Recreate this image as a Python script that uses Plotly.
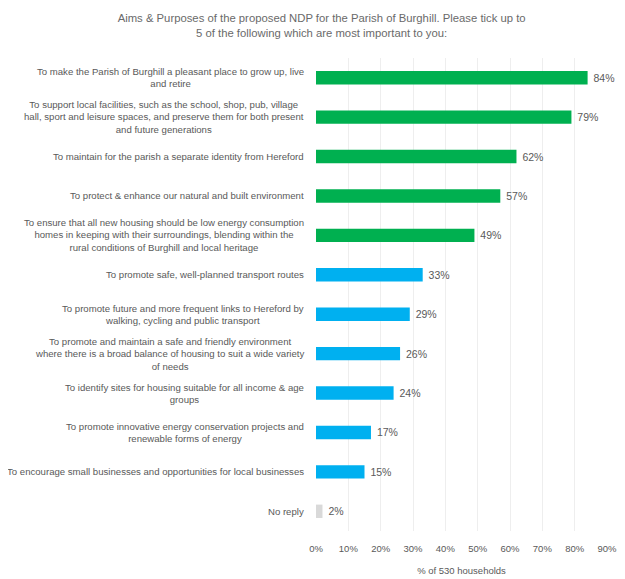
import plotly.graph_objects as go

categories = [
    "To make the Parish of Burghill a pleasant place to grow up, live<br>and retire",
    "To support local facilities, such as the school, shop, pub, village<br>hall, sport and leisure spaces, and preserve them for both present<br>and future generations",
    "To maintain for the parish a separate identity from Hereford",
    "To protect & enhance our natural and built environment",
    "To ensure that all new housing should be low energy consumption<br>homes in keeping with their surroundings, blending within the<br>rural conditions of Burghill and local heritage",
    "To promote safe, well-planned transport routes",
    "To promote future and more frequent links to Hereford by<br>walking, cycling and public transport",
    "To promote and maintain a safe and friendly environment<br>where there is a broad balance of housing to suit a wide variety<br>of needs",
    "To identify sites for housing suitable for all income & age<br>groups",
    "To promote innovative energy conservation projects and<br>renewable forms of energy",
    "To encourage small businesses and opportunities for local businesses",
    "No reply",
]
values = [84, 79, 62, 57, 49, 33, 29, 26, 24, 17, 15, 2]
value_labels = ["84%", "79%", "62%", "57%", "49%", "33%", "29%", "26%", "24%", "17%", "15%", "2%"]
groups = ["aim"] * 5 + ["other"] * 6 + ["none"]
tick_vals = [0, 10, 20, 30, 40, 50, 60, 70, 80, 90]
tick_text = ["0%", "10%", "20%", "30%", "40%", "50%", "60%", "70%", "80%", "90%"]

palette = {"aim": "#00B050", "other": "#00B0F0", "none": "#D9D9D9"}
colors = [palette[g] for g in groups]
ids = [str(i) for i in range(len(categories))]

FONT = "Liberation Sans"

fig = go.Figure(go.Bar(
    x=values, y=ids, orientation="h",
    marker=dict(color=colors, line=dict(width=0)),
    width=0.34,
    text=value_labels, textposition="outside",
    texttemplate=" %{text}",
    textfont=dict(size=10.5, color="#595959", family=FONT),
    cliponaxis=False,
))

for cid, label in zip(ids, categories):
    fig.add_annotation(
        x=-0.034, xref="paper", y=cid, yref="y",
        text=label, showarrow=False, xanchor="right", align="center",
        font=dict(size=9.6, color="#595959", family=FONT),
    )

fig.update_layout(
    width=609, height=571,
    margin=dict(l=308, r=10, t=50, b=48, autoexpand=False),
    paper_bgcolor="white", plot_bgcolor="white",
    showlegend=False,
    bargap=0.6,
    title=dict(
        text="Aims & Purposes of the proposed NDP for the Parish of Burghill. Please tick up to<br>5 of the following which are most important to you:",
        x=0.515, xanchor="center", y=0.975, yanchor="top",
        font=dict(size=11.3, color="#6A6A6A", family=FONT),
    ),
    xaxis=dict(
        range=[0, 90], tickvals=tick_vals, ticktext=tick_text,
        automargin=False, ticklabeloverflow="allow",
        showgrid=True, gridcolor="#EEEEEE", gridwidth=1,
        zeroline=False, showline=False, ticks="",
        ticklabelstandoff=10,
        tickfont=dict(size=9.5, color="#595959", family=FONT),
        title=dict(text="% of 530 households", standoff=14,
                   font=dict(size=9.5, color="#595959", family=FONT)),
    ),
    yaxis=dict(
        categoryorder="array", categoryarray=ids, autorange="reversed",
        automargin=False,
        showticklabels=False, showgrid=False, zeroline=False, ticks="",
    ),
)

fig.write_html("out.html")
